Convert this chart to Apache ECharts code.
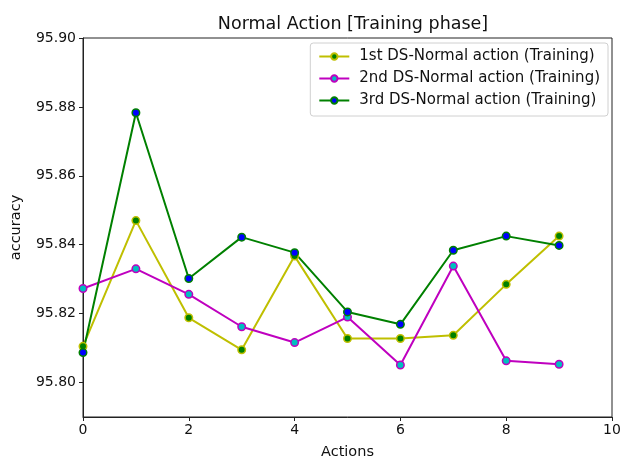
<!DOCTYPE html>
<html>
<head>
<meta charset="utf-8">
<script src="https://cdn.jsdelivr.net/npm/echarts@6/dist/echarts.min.js"></script>
<style>html,body{margin:0;padding:0;background:#fff}#c{width:620px;height:462px}</style>
</head>
<body>
<div id="c"></div>
<script>
const actions = [0, 1, 2, 3, 4, 5, 6, 7, 8, 9];
const ds1 = [95.8105, 95.8470, 95.8188, 95.8095, 95.8367, 95.8128, 95.8128, 95.8137, 95.8285, 95.8425];
const ds2 = [95.8273, 95.8330, 95.8256, 95.8162, 95.8116, 95.8190, 95.8051, 95.8338, 95.8063, 95.8053];
const ds3 = [95.8087, 95.8783, 95.8302, 95.8422, 95.8377, 95.8205, 95.8169, 95.8384, 95.8425, 95.8398];
const seriesNames = ['1st DS-Normal action (Training)', '2nd DS-Normal action (Training)', '3rd DS-Normal action (Training)'];
const yTicks = [95.80, 95.82, 95.84, 95.86, 95.88, 95.90];
const xTicks = [0, 2, 4, 6, 8, 10];

const FONT = 'DejaVu Sans';
function mk(name, vals, lineColor, fill) {
  return {
    name: name, type: 'line',
    data: actions.map((a, i) => [a, vals[i]]),
    symbol: 'circle', symbolSize: 7.5,
    lineStyle: { color: lineColor, width: 2 },
    itemStyle: { color: fill, borderColor: lineColor, borderWidth: 1.5 },
    emphasis: { disabled: true },
    animation: false
  };
}
const chart = echarts.init(document.getElementById('c'), null, { renderer: 'canvas' });
chart.setOption({
  animation: false,
  backgroundColor: '#fff',
  title: {
    text: 'Normal Action [Training phase]', left: 348, top: 10, textAlign: 'center',
    textStyle: { fontFamily: FONT, fontSize: 17.5, fontWeight: 'normal', color: '#111' }
  },
  grid: { left: 83, right: 8, top: 38, bottom: 45, outerBoundsMode: 'none', containLabel: false, show: true, borderColor: '#222', borderWidth: 1, backgroundColor: 'transparent' },
  legend: {
    orient: 'vertical', right: 12, top: 43,
    data: seriesNames,
    itemWidth: 30, itemHeight: 8, itemGap: 7,
    padding: [6, 8, 8, 8],
    borderColor: '#d0d0d0', borderWidth: 1, borderRadius: 3,
    backgroundColor: 'rgba(255,255,255,0.8)',
    textStyle: { fontFamily: FONT, fontSize: 15, color: '#111', padding: [0, 0, 0, 5] }
  },
  xAxis: {
    type: 'value', min: 0, max: 10, interval: 2,
    name: 'Actions', nameLocation: 'middle', nameGap: 28,
    nameTextStyle: { fontFamily: FONT, fontSize: 14.5, color: '#111' },
    axisLine: { show: true, lineStyle: { color: '#222', width: 1 } },
    axisTick: { show: true, length: 4, lineStyle: { color: '#222' } },
    axisLabel: { fontFamily: FONT, fontSize: 14, color: '#111', margin: 6 },
    splitLine: { show: false }
  },
  yAxis: {
    type: 'value', min: 95.79, max: 95.90, interval: 0.01,
    name: 'accuracy', nameLocation: 'middle', nameGap: 59, nameRotate: 90,
    nameTextStyle: { fontFamily: FONT, fontSize: 14.5, color: '#111' },
    axisLine: { show: true, lineStyle: { color: '#222', width: 1 } },
    axisTick: { show: true, length: 4, lineStyle: { color: '#222' }, customValues: yTicks },
    axisLabel: { fontFamily: FONT, fontSize: 14, color: '#111', margin: 7, customValues: yTicks, formatter: v => v.toFixed(2) },
    splitLine: { show: false }
  },
  series: [
    mk(seriesNames[0], ds1, '#bfbf00', '#008000'),
    mk(seriesNames[1], ds2, '#bf00bf', '#00bfbf'),
    mk(seriesNames[2], ds3, '#008000', '#0000ff')
  ]
});
</script>
</body>
</html>
